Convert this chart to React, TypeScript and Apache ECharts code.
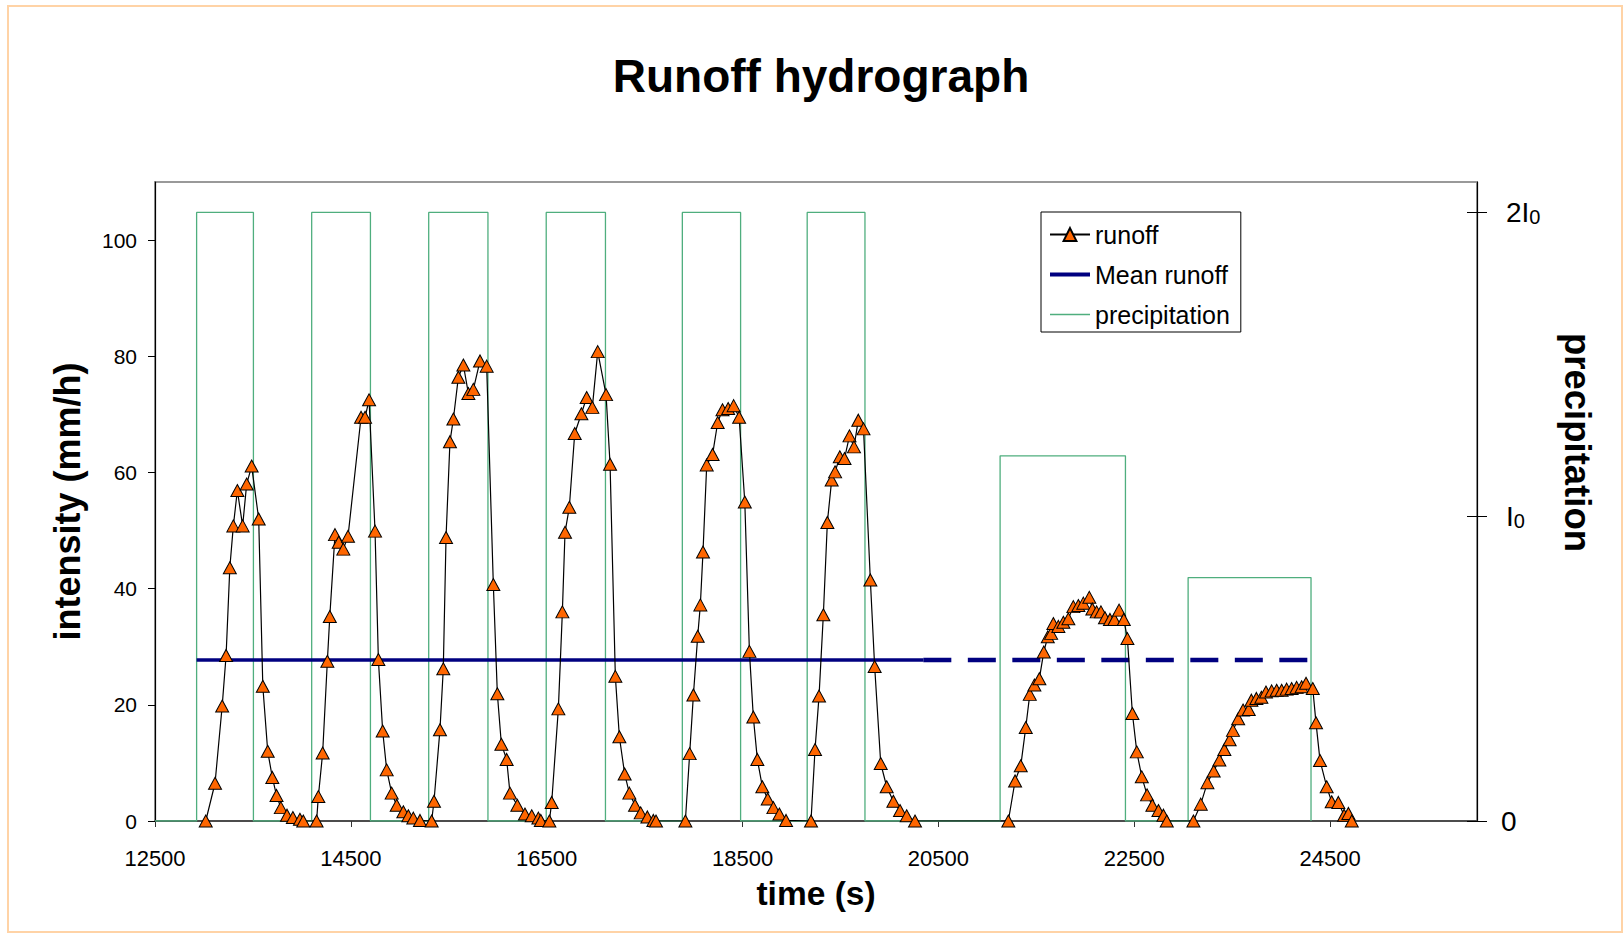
import React, { useEffect, useRef } from "react";
import * as echarts from "echarts";

// ---- data (time in s, runoff in mm/h) ----
const pulse1: number[][] = [
  [13018, 0], [13113, 6.5], [13186, 19.8], [13226, 28.5], [13264, 43.6], [13300, 50.8],
  [13341, 56.9], [13395, 50.8], [13436, 58.0], [13487, 61.1], [13559, 52.0], [13601, 23.2],
  [13651, 12.0], [13698, 7.5], [13741, 4.4], [13785, 2.3], [13848, 1.0], [13908, 0.6],
  [13980, 0.3], [14014, 0],
];
const pulse2: number[][] = [
  [14150, 0], [14168, 4.2], [14212, 11.7], [14260, 27.5], [14285, 35.2], [14338, 49.3],
  [14376, 48.0], [14423, 46.8], [14471, 49.0], [14604, 69.5], [14645, 69.5], [14686, 72.5],
  [14747, 49.9], [14781, 27.8], [14825, 15.5], [14866, 8.8], [14917, 4.8], [14968, 2.7],
  [15036, 1.6], [15087, 0.9], [15138, 0.5], [15206, 0.1],
];
const pulse3: number[][] = [
  [15325, 0], [15349, 3.4], [15410, 15.7], [15444, 26.2], [15472, 48.8], [15512, 65.3],
  [15547, 69.2], [15598, 76.4], [15649, 78.5], [15700, 73.6], [15751, 74.3], [15819, 79.2],
  [15887, 78.3], [15955, 40.7], [15996, 21.9], [16037, 13.2], [16091, 10.6], [16125, 4.8],
  [16200, 2.7], [16278, 1.2], [16347, 0.9], [16415, 0.5], [16440, 0.1],
];
const pulse4: number[][] = [
  [16527, 0], [16551, 3.2], [16619, 19.3], [16660, 36.0], [16687, 49.7], [16731, 54.0],
  [16786, 66.7], [16854, 70.1], [16908, 72.9], [16966, 71.2], [17021, 80.8], [17106, 73.4],
  [17147, 61.4], [17201, 24.9], [17242, 14.5], [17296, 8.1], [17344, 4.8], [17402, 2.7],
  [17460, 1.4], [17528, 0.7], [17589, 0.1], [17616, 0],
];
const pulse5: number[][] = [
  [17916, 0], [17960, 11.6], [17998, 21.7], [18042, 31.8], [18069, 37.2], [18096, 46.3],
  [18134, 61.3], [18194, 63.1], [18246, 68.6], [18295, 70.8], [18353, 71.0], [18409, 71.5],
  [18465, 69.5], [18523, 54.9], [18570, 29.2], [18610, 17.9], [18651, 10.6], [18702, 5.9],
  [18757, 3.8], [18815, 2.3], [18876, 1.2], [18944, 0.1],
];
const pulse6: number[][] = [
  [19199, 0], [19240, 12.3], [19281, 21.5], [19325, 35.5], [19366, 51.4], [19410, 58.7],
  [19445, 60.1], [19493, 62.7], [19541, 62.4], [19592, 66.3], [19638, 64.4], [19682, 69.0],
  [19735, 67.5], [19805, 41.5], [19849, 26.6], [19911, 9.9], [19972, 5.9], [20040, 3.4],
  [20108, 1.8], [20176, 0.9], [20261, 0],
];
const pulse7: number[][] = [
  [21214, 0], [21283, 6.9], [21341, 9.5], [21392, 16.1], [21433, 21.8], [21480, 23.4],
  [21531, 24.5], [21576, 29.1], [21617, 31.7], [21651, 32.3], [21674, 34.0], [21725, 33.5],
  [21776, 34.2], [21827, 34.8], [21878, 36.9], [21929, 37.1], [21980, 37.5], [22041, 38.5],
  [22072, 36.5], [22116, 36.0], [22160, 36.0], [22201, 35.0], [22252, 34.7], [22297, 34.7],
  [22345, 36.3], [22393, 34.7], [22430, 31.4], [22481, 18.5], [22526, 11.9], [22577, 7.6],
  [22631, 4.5], [22685, 2.7], [22747, 1.8], [22798, 1.0], [22832, 0],
];
const pulse8: number[][] = [
  [23104, 0], [23179, 2.9], [23247, 6.6], [23311, 8.6], [23369, 10.5], [23420, 12.3],
  [23474, 14.0], [23508, 15.6], [23561, 17.6], [23611, 19.1], [23669, 19.2], [23696, 20.8],
  [23747, 21.1], [23798, 21.3], [23845, 22.2], [23903, 22.4], [23954, 22.5], [24005, 22.5],
  [24056, 22.7], [24107, 22.8], [24158, 23.0], [24209, 23.1], [24254, 23.7], [24323, 22.8],
  [24356, 16.9], [24397, 10.4], [24465, 5.9], [24516, 3.3], [24584, 3.2], [24643, 1.0],
  [24687, 1.3], [24721, 0],
];

// precipitation pulses (time window and level in units of I0)
const precipStart = [12925, 14100, 15295, 16495, 17885, 19160, 21130, 23050];
const precipEnd = [13505, 14700, 15900, 17100, 18480, 19750, 22410, 24305];
const precipLevel = [2, 2, 2, 2, 2, 2, 1.2, 0.8];

const meanRunoff = 27.7;
const meanSolidSpan = [12925, 20346];
const meanDashedSpan = [20346, 24290];

const xTicks = [12500, 14500, 16500, 18500, 20500, 22500, 24500];
const yTicks = [0, 20, 40, 60, 80, 100];
const precipTicks = [0, 1, 2];
const precipTickLabels = ["{m|0}", "{n|I}{s|0}", "{n|2I}{s|0}"];

const FONT = '"Liberation Sans", Arial, Helvetica, sans-serif';
const MEAN_COLOR = "#000080";
const PRECIP_COLOR = "#4FAE7E";

export default function App() {
  const ref = useRef<HTMLDivElement>(null);

  useEffect(() => {
    if (!ref.current) return;
    const chart = echarts.init(ref.current, undefined, { renderer: "svg" });

    const runoffData = [
      ...pulse1, ...pulse2, ...pulse3, ...pulse4,
      ...pulse5, ...pulse6, ...pulse7, ...pulse8,
    ];

    const precipData: number[][] = [[12500, 0]];
    precipStart.forEach((s, i) => {
      precipData.push([s, 0], [s, precipLevel[i]], [precipEnd[i], precipLevel[i]], [precipEnd[i], 0]);
    });

    const option: any = {
      animation: false,
      backgroundColor: "#ffffff",
      textStyle: { fontFamily: FONT },
      title: {
        text: "Runoff hydrograph",
        left: 816,
        textAlign: "center",
        top: 48,
        textStyle: { fontSize: 46, fontWeight: "bold", color: "#000", fontFamily: FONT },
      },
      legend: {
        data: [
          { name: "runoff" },
          { name: "Mean runoff", icon: "line", itemStyle: { color: MEAN_COLOR, borderColor: MEAN_COLOR, borderWidth: 4 } },
          { name: "precipitation", icon: "line", itemStyle: { color: PRECIP_COLOR, borderColor: PRECIP_COLOR, borderWidth: 1.3 } },
        ],
        orient: "vertical",
        left: 1041,
        top: 212,
        padding: [10, 11, 5, 7],
        itemGap: 15,
        itemWidth: 40,
        itemHeight: 16,
        backgroundColor: "#fff",
        borderColor: "#000",
        borderWidth: 1,
        borderRadius: 0,
        textStyle: { fontSize: 25, color: "#000", fontFamily: FONT },
      },
      grid: {
        left: 155,
        right: 147,
        top: 182,
        bottom: 114,
        show: true,
        borderColor: "#999",
        borderWidth: 2,
        backgroundColor: "transparent",
        containLabel: false,
        outerBoundsMode: "none",
      },
      graphic: [
        {
          type: "rect",
          shape: { x: 8, y: 6, width: 1614, height: 926 },
          style: { fill: "none", stroke: "#FFD3A6", lineWidth: 2 },
          silent: true,
        },
      ],
      xAxis: {
        type: "value",
        min: 12500,
        max: 26000,
        name: "time (s)",
        nameLocation: "middle",
        nameGap: 55,
        nameTextStyle: { fontSize: 33.5, fontWeight: "bold", color: "#000", fontFamily: FONT },
        axisLine: { show: true, onZero: false, lineStyle: { color: "#333", width: 1.5 } },
        axisTick: { show: true, customValues: xTicks, length: 6, lineStyle: { color: "#333" } },
        axisLabel: {
          show: true, customValues: xTicks, margin: 26, fontSize: 22, color: "#000", fontFamily: FONT,
          formatter: (v: number) => String(v),
        },
        splitLine: { show: false },
      },
      yAxis: [
        {
          type: "value",
          min: 0,
          max: 110,
          position: "left",
          name: "intensity (mm/h)",
          nameLocation: "middle",
          nameRotate: 90,
          nameGap: 70,
          nameTextStyle: { fontSize: 36, fontWeight: "bold", color: "#000", fontFamily: FONT },
          axisLine: { show: true, onZero: false, lineStyle: { color: "#000", width: 1.2 } },
          axisTick: { show: true, customValues: yTicks, length: 7, lineStyle: { color: "#000" } },
          axisLabel: {
            show: true, customValues: yTicks, margin: 18, fontSize: 21, color: "#000", fontFamily: FONT,
            formatter: (v: number) => String(v),
          },
          splitLine: { show: false },
        },
        {
          type: "value",
          min: 0,
          max: 2.1,
          position: "right",
          name: "precipitation",
          nameLocation: "middle",
          nameRotate: -90,
          nameGap: 82,
          nameTextStyle: {
            fontSize: 36.5, fontWeight: "bold", color: "#000", fontFamily: FONT,
            padding: [0, 118, 0, 0],
          },
          axisLine: { show: true, onZero: false, lineStyle: { color: "#000", width: 1.2 } },
          axisTick: { show: true, customValues: precipTicks, length: 10, lineStyle: { color: "#000" } },
          axisLabel: {
            show: true,
            customValues: precipTicks,
            margin: 24,
            formatter: (v: number) => precipTickLabels[precipTicks.indexOf(v)] ?? "",
            rich: {
              m: { fontSize: 28, lineHeight: 29, color: "#000", fontFamily: FONT },
              n: { fontSize: 28, lineHeight: 29, color: "#000", fontFamily: FONT, padding: [0, 0, 0, 5] },
              s: { fontSize: 20, lineHeight: 14, verticalAlign: "bottom", color: "#000", fontFamily: FONT },
            },
          },
          splitLine: { show: false },
        },
        {
          type: "value",
          min: 0,
          max: 2.1,
          position: "right",
          axisLine: { show: false },
          axisTick: { show: true, inside: true, customValues: precipTicks, length: 10, lineStyle: { color: "#000" } },
          axisLabel: { show: false },
          splitLine: { show: false },
        },
      ],
      series: [
        {
          name: "precipitation",
          type: "line",
          yAxisIndex: 1,
          data: precipData,
          symbol: "none",
          showSymbol: false,
          lineStyle: { color: PRECIP_COLOR, width: 1.3 },
          itemStyle: { color: PRECIP_COLOR },
          z: 1,
          silent: true,
        },
        {
          name: "Mean runoff",
          type: "line",
          yAxisIndex: 0,
          data: [[meanSolidSpan[0], meanRunoff], [meanSolidSpan[1], meanRunoff]],
          symbol: "none",
          showSymbol: false,
          lineStyle: { color: MEAN_COLOR, width: 3.5 },
          itemStyle: { color: MEAN_COLOR },
          z: 2,
          silent: true,
        },
        {
          name: "Mean runoff (continued)",
          type: "line",
          yAxisIndex: 0,
          data: [[meanDashedSpan[0], meanRunoff], [meanDashedSpan[1], meanRunoff]],
          symbol: "none",
          showSymbol: false,
          lineStyle: { color: MEAN_COLOR, width: 4.5, type: [28, 16.5] },
          itemStyle: { color: MEAN_COLOR },
          z: 2,
          silent: true,
        },
        {
          name: "runoff",
          type: "line",
          yAxisIndex: 0,
          data: runoffData,
          symbol: "triangle",
          symbolSize: [13, 12],
          showSymbol: true,
          showAllSymbol: true,
          lineStyle: { color: "#000", width: 1.2 },
          itemStyle: { color: "#FF6600", borderColor: "#000", borderWidth: 1 },
          z: 3,
        },
      ],
    };

    chart.setOption(option);
    return () => chart.dispose();
  }, []);

  return (
    <div
      ref={ref}
      style={{ position: "absolute", left: 0, top: 0, width: 1624, height: 935, background: "#fff" }}
    />
  );
}
